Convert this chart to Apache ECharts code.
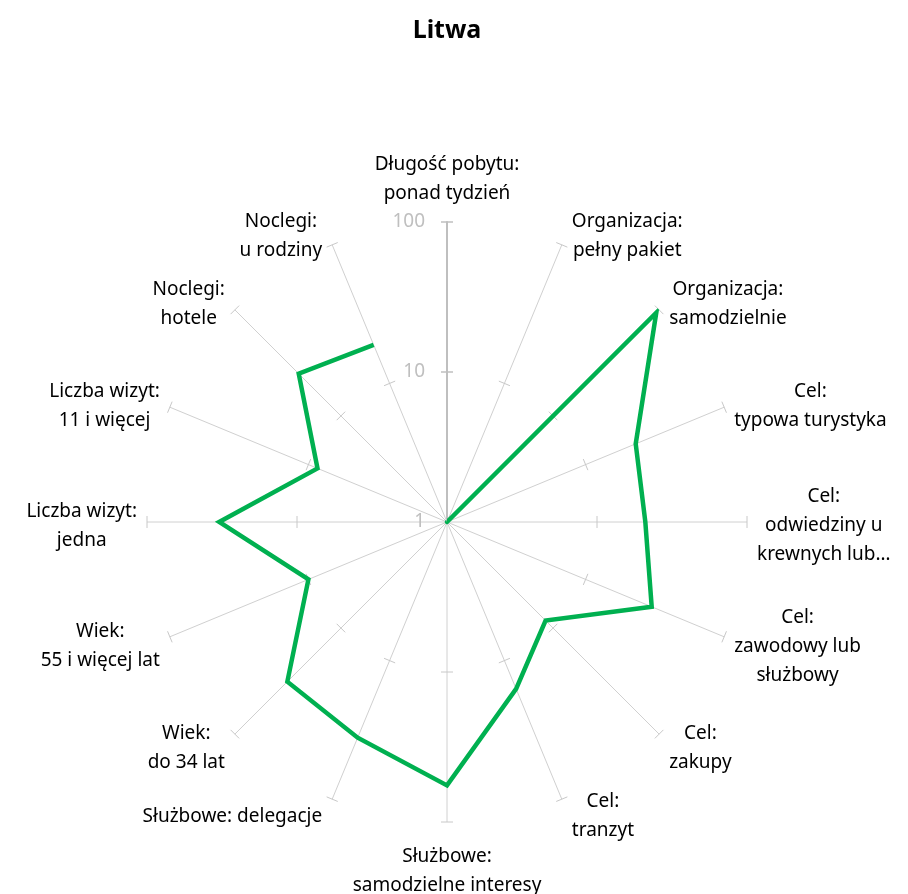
<!DOCTYPE html>
<html>
<head>
<meta charset="utf-8">
<script src="https://cdn.jsdelivr.net/npm/echarts@6/dist/echarts.min.js"></script>
<style>html,body{margin:0;padding:0;background:#fff;}#chart{width:908px;height:894px;}</style>
</head>
<body>
<div id="chart"></div>
<script>
var titleText = 'Litwa';
var categories = [
  'Długość pobytu:\nponad tydzień',
  'Organizacja:\npełny pakiet',
  'Organizacja:\nsamodzielnie',
  'Cel:\ntypowa turystyka',
  'Cel:\nodwiedziny u\nkrewnych lub…',
  'Cel:\nzawodowy lub\nsłużbowy',
  'Cel:\nzakupy',
  'Cel:\ntranzyt',
  'Służbowe:\nsamodzielne interesy',
  'Służbowe: delegacje',
  'Wiek:\ndo 34 lat',
  'Wiek:\n55 i więcej lat',
  'Liczba wizyt:\njedna',
  'Liczba wizyt:\n11 i więcej',
  'Noclegi:\nhotele',
  'Noclegi:\nu rodziny'
];
var values = [null, 1, 94, 23, 21, 30, 8.5, 16, 57, 36, 32, 10, 33, 8.6, 25, 19];
var tickValues = [10, 100];
var axisMin = 1, axisMax = 100;

var FONT = 'Noto Sans';
var chart = echarts.init(document.getElementById('chart'), null, {renderer: 'canvas'});

var tickData = [];
categories.forEach(function (c, i) { tickValues.forEach(function (v) { tickData.push([v, i]); }); });
var labelData = categories.map(function (c, i) { return [axisMax, i]; });

function unitDir(api, i) {
  var p = api.coord([axisMax, i]);
  var c = api.coord([axisMin, i]);
  var dx = p[0] - c[0], dy = p[1] - c[1];
  var l = Math.sqrt(dx * dx + dy * dy) || 1;
  return [dx / l, dy / l];
}

var option = {
  backgroundColor: '#fff',
  animation: false,
  title: {
    text: titleText, left: 442, textAlign: 'center', top: 13,
    textStyle: {fontFamily: FONT, fontSize: 25, fontWeight: 'bold', color: '#000'}
  },
  polar: {center: [447, 522], radius: 300},
  angleAxis: {
    type: 'category', data: categories, startAngle: 90, clockwise: true, boundaryGap: false,
    axisLine: {show: false}, axisTick: {show: false}, axisLabel: {show: false},
    splitLine: {show: true, lineStyle: {color: '#d0d0d0', width: 1}}
  },
  radiusAxis: {
    type: 'log', logBase: 10, min: axisMin, max: axisMax,
    axisLine: {show: true, lineStyle: {color: '#bfbfbf', width: 2}},
    axisTick: {show: false},
    splitLine: {show: false},
    axisLabel: {show: true, color: '#bfbfbf', fontFamily: FONT, fontSize: 19, margin: 22}
  },
  series: [
    {
      type: 'custom', coordinateSystem: 'polar', silent: true, z: 1,
      data: tickData,
      renderItem: function (params, api) {
        var v = api.value(0), i = api.value(1);
        var p = api.coord([v, i]);
        var u = unitDir(api, i);
        var n = [-u[1], u[0]];
        var h = 6;
        return {
          type: 'line',
          shape: {x1: p[0] - n[0] * h, y1: p[1] - n[1] * h, x2: p[0] + n[0] * h, y2: p[1] + n[1] * h},
          style: {stroke: i === 0 ? '#bfbfbf' : '#c8c8c8', lineWidth: i === 0 ? 1.5 : 1}
        };
      }
    },
    {
      type: 'line', coordinateSystem: 'polar', data: values, symbol: 'none', connectNulls: false,
      z: 3,
      lineStyle: {color: '#00b050', width: 4.5, cap: 'round', join: 'miter'}
    },
    {
      type: 'custom', coordinateSystem: 'polar', silent: true, z: 2,
      data: labelData,
      renderItem: function (params, api) {
        var i = api.value(1);
        var p = api.coord([axisMax, i]);
        var u = unitDir(api, i);
        var txt = categories[i].split('\n').map(function (s) { return '{c|' + s + '}'; }).join('\n');
        var x, y, align, va;
        if (Math.abs(u[0]) < 0.1) {
          align = 'center'; x = p[0];
          if (u[1] < 0) { va = 'bottom'; y = p[1] - 14; } else { va = 'top'; y = p[1] + 20; }
        } else {
          align = u[0] > 0 ? 'left' : 'right';
          x = p[0] + (u[0] > 0 ? 10 : -10);
          va = 'middle';
          y = p[1] + 4 + 14 * u[1];
        }
        return {
          type: 'text',
          style: {
            x: x, y: y, text: txt, align: align, verticalAlign: va,
            fontFamily: FONT, fontSize: 19, fill: '#000', lineHeight: 29,
            rich: {c: {align: 'center', fontFamily: FONT, fontSize: 19, lineHeight: 29, fill: '#000'}}
          }
        };
      }
    }
  ]
};
chart.setOption(option);
</script>
</body>
</html>
